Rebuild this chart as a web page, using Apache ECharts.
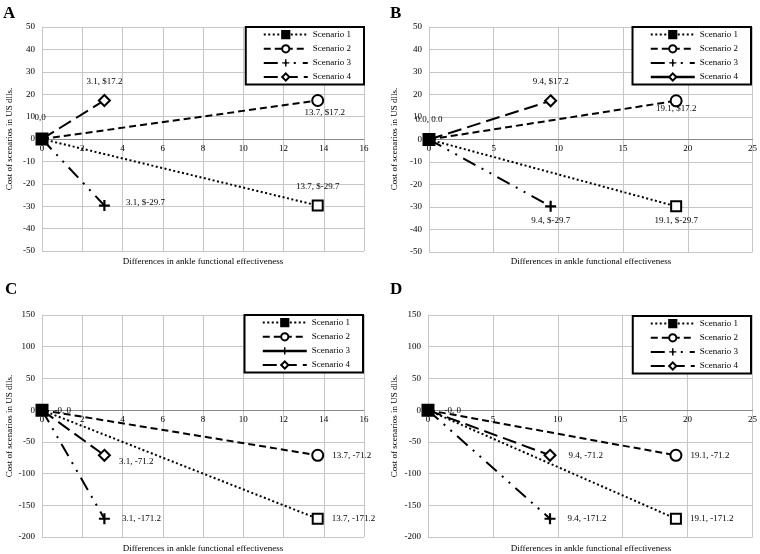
<!DOCTYPE html>
<html><head><meta charset="utf-8">
<script src="https://cdn.jsdelivr.net/npm/echarts@6/dist/echarts.min.js"></script>
<style>html,body{margin:0;padding:0;background:#fff;}#c{width:760px;height:554px;}</style>
</head><body><div id="c"></div>
<script>
// ---- data ----
const scenarios = ['Scenario 1', 'Scenario 2', 'Scenario 3', 'Scenario 4'];
const panelNames = ['A', 'B', 'C', 'D'];
const xTitle = 'Differences in ankle functional effectiveness';
const yTitle = 'Cost of scenarios in US dlls.';
// end points per scenario (start point is 0,0 for all)
const aX = [13.7, 13.7, 3.1, 3.1];
const aY = [-29.7, 17.2, -29.7, 17.2];
const aLabels = ['13.7, $-29.7', '13.7, $17.2', '3.1, $-29.7', '3.1, $17.2'];
const aOrigin = '0,0';
const bX = [19.1, 19.1, 9.4, 9.4];
const bY = [-29.7, 17.2, -29.7, 17.2];
const bLabels = ['19.1, $-29.7', '19.1, $17.2', '9.4, $-29.7', '9.4, $17.2'];
const bOrigin = '0.0, 0.0';
const cX = [13.7, 13.7, 3.1, 3.1];
const cY = [-171.2, -71.2, -171.2, -71.2];
const cLabels = ['13.7, -171.2', '13.7, -71.2', '3.1, -171.2', '3.1, -71.2'];
const cOrigin = '-0, 0';
const dX = [19.1, 19.1, 9.4, 9.4];
const dY = [-171.2, -71.2, -171.2, -71.2];
const dLabels = ['19.1, -171.2', '19.1, -71.2', '9.4, -171.2', '9.4, -71.2'];
const dOrigin = '-0, 0';
// axis ranges [min, max, interval]
const xRangeA = [0, 16, 2], xRangeB = [0, 25, 5];
const yRangeAB = [-50, 50, 10], yRangeCD = [-200, 150, 50];

// ---- styles ----
const FONT = 'Liberation Serif';
const FS = 9;
const panels = [
  {x: aX, y: aY, lab: aLabels, org: aOrigin, xr: xRangeA, yr: yRangeAB,
   grid: {left: 42, top: 27, width: 322, height: 224},
   legend: {right: 396, top: 27},
   labPos: [{position: 'top', distance: 8}, {position: 'bottom', distance: 1, offset: [7, 0]},
            {position: 'right', distance: 16, offset: [0, -3]}, {position: 'top', distance: 8}],
   orgPos: {position: 'top', distance: 10, offset: [-2, 0]},
   legSolid: -1, letter: [3, 5], xt: [203, 262], yt: [10, 139]},
  {x: bX, y: bY, lab: bLabels, org: bOrigin, xr: xRangeB, yr: yRangeAB,
   grid: {left: 429, top: 27, width: 325, height: 225},
   legend: {right: 9, top: 27},
   labPos: [{position: 'bottom', distance: 4}, {position: 'bottom', distance: -3},
            {position: 'bottom', distance: 4}, {position: 'top', distance: 8}],
   orgPos: {position: 'top', distance: 9},
   legSolid: 3, letter: [390, 5], xt: [591, 262], yt: [395, 139]},
  {x: cX, y: cY, lab: cLabels, org: cOrigin, xr: xRangeA, yr: yRangeCD,
   grid: {left: 42, top: 315, width: 322, height: 222},
   legend: {right: 397, top: 315},
   labPos: [{position: 'right', distance: 8}, {position: 'right', distance: 8},
            {position: 'right', distance: 12}, {position: 'right', distance: 8, offset: [0, 6]}],
   orgPos: {position: 'right', distance: 6},
   legSolid: 2, letter: [5, 281], xt: [203, 549], yt: [10, 426]},
  {x: dX, y: dY, lab: dLabels, org: dOrigin, xr: xRangeB, yr: yRangeCD,
   grid: {left: 428, top: 315, width: 325, height: 222},
   legend: {right: 9, top: 316},
   labPos: [{position: 'right', distance: 8}, {position: 'right', distance: 8},
            {position: 'right', distance: 12}, {position: 'right', distance: 12}],
   orgPos: {position: 'right', distance: 10},
   legSolid: -1, letter: [390, 281], xt: [591, 549], yt: [395, 426]}
];
const plusPath = 'path://M4,0H6V4H10V6H6V10H4V6H0V4H4Z';
const sStyle = [
  {symbol: 'rect', size: 10, dash: [2, 2.5], fill: '#fff'},
  {symbol: 'circle', size: 11, dash: [7, 4], fill: '#fff'},
  {symbol: plusPath, size: 11, dash: [14, 7, 2, 7, 2, 7], fill: '#000', plus: true},
  {symbol: 'diamond', size: 11, dash: [14, 6], fill: '#fff'}
];

const grids = [], xAxes = [], yAxes = [], series = [], legends = [], graphics = [];
panels.forEach((p, pi) => {
  grids.push(Object.assign({containLabel: false}, p.grid));
  // move the x axis up to the zero line of the y axis
  const zeroOffset = -p.grid.height * (0 - p.yr[0]) / (p.yr[1] - p.yr[0]);
  xAxes.push({
    type: 'value', gridIndex: pi, min: p.xr[0], max: p.xr[1], interval: p.xr[2],
    position: 'bottom', offset: zeroOffset,
    axisLine: {show: true, onZero: false, lineStyle: {color: '#8a8a8a', width: 1}},
    axisTick: {show: false},
    axisLabel: {color: '#000', fontFamily: FONT, fontSize: FS, margin: 5},
    splitLine: {show: true, lineStyle: {color: '#c6c6c6', width: 1}}
  });
  yAxes.push({
    type: 'value', gridIndex: pi, min: p.yr[0], max: p.yr[1], interval: p.yr[2],
    axisLine: {show: true, onZero: false, lineStyle: {color: '#c6c6c6', width: 1}},
    axisTick: {show: false},
    axisLabel: {color: '#000', fontFamily: FONT, fontSize: FS, margin: 7},
    splitLine: {show: true, lineStyle: {color: '#c6c6c6', width: 1}}
  });
  const legData = [];
  scenarios.forEach((s, si) => {
    const st = sStyle[si];
    const name = panelNames[pi] + '|' + s;
    const origin = {value: [0, 0]};
    if (si === 0) {
      origin.symbol = 'rect'; origin.symbolSize = 11;
      origin.itemStyle = {color: '#000', borderColor: '#000'};
      origin.label = Object.assign({show: true, formatter: p.org, color: '#000',
        fontFamily: FONT, fontSize: FS}, p.orgPos);
    } else {
      origin.symbolSize = 0;
      origin.label = {show: false};
    }
    const end = {value: [p.x[si], p.y[si]],
      label: Object.assign({show: true, formatter: p.lab[si], color: '#000',
        fontFamily: FONT, fontSize: FS}, p.labPos[si])};
    series.push({
      type: 'line', name: name, xAxisIndex: pi, yAxisIndex: pi,
      symbol: st.symbol, symbolSize: st.size, showAllSymbol: true,
      z: si === 0 ? 4 : 3,
      lineStyle: {color: '#000', width: 2, type: st.dash},
      itemStyle: {color: st.fill, borderColor: '#000', borderWidth: st.plus ? 0 : 2},
      emphasis: {disabled: true},
      animation: false,
      data: [origin, end]
    });
    const ld = {name: name};
    if (si === p.legSolid) ld.lineStyle = {type: 'solid', width: 2.5};
    if (si === 0) ld.itemStyle = {color: '#000', borderColor: '#000'};
    legData.push(ld);
  });
  legends.push({
    orient: 'vertical', right: p.legend.right, top: p.legend.top,
    data: legData, formatter: n => n.split('|')[1],
    backgroundColor: '#fff', borderColor: '#000', borderWidth: 2,
    padding: [3, 13, 3, 17], itemGap: 5, itemWidth: 44, itemHeight: 9,
    textStyle: {color: '#000', fontFamily: FONT, fontSize: FS},
    selectedMode: false
  });
  graphics.push({type: 'text', left: p.letter[0], top: p.letter[1],
    style: {text: panelNames[pi], fontFamily: FONT, fontSize: 17, fontWeight: 'bold', fill: '#000'}});
  graphics.push({type: 'text', x: p.xt[0], y: p.xt[1],
    style: {text: xTitle, fontFamily: FONT, fontSize: FS, fill: '#000', align: 'center', verticalAlign: 'middle'}});
  graphics.push({type: 'text', x: p.yt[0], y: p.yt[1], rotation: Math.PI / 2,
    style: {text: yTitle, fontFamily: FONT, fontSize: FS, fill: '#000', align: 'center', verticalAlign: 'middle'}});
});

const chart = echarts.init(document.getElementById('c'), null, {renderer: 'canvas'});
chart.setOption({
  backgroundColor: '#fff', animation: false,
  grid: grids, xAxis: xAxes, yAxis: yAxes, series: series, legend: legends, graphic: graphics
});
</script></body></html>
